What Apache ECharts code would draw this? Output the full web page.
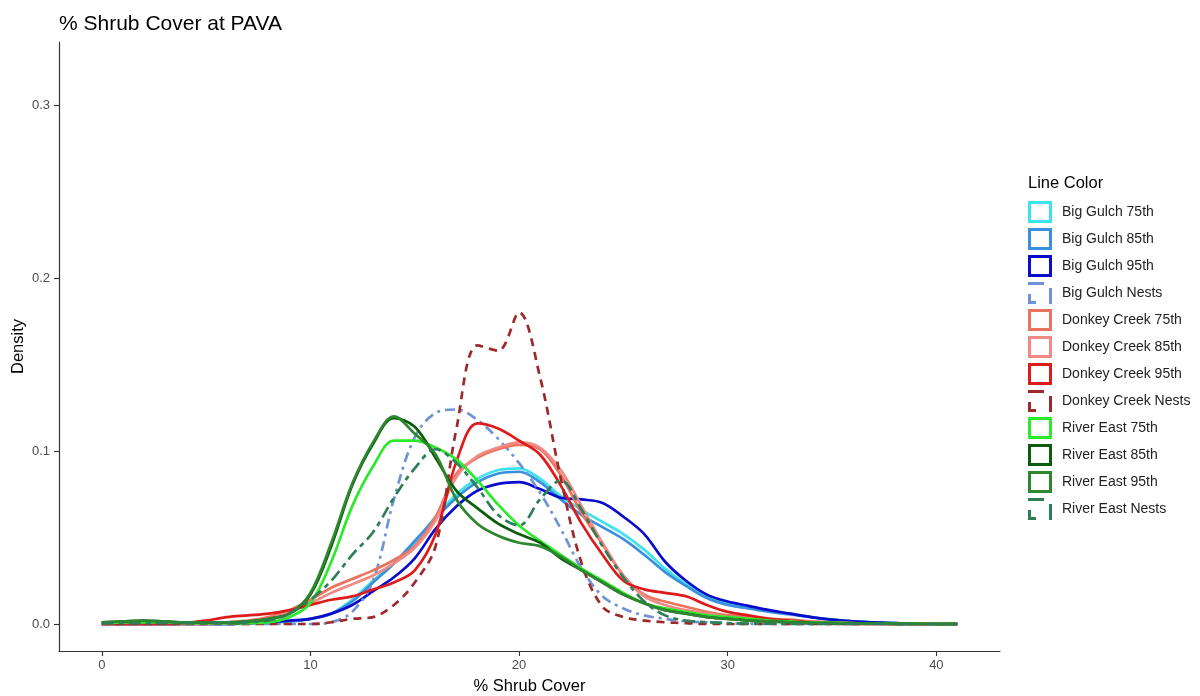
<!DOCTYPE html>
<html>
<head>
<meta charset="utf-8">
<title>% Shrub Cover at PAVA</title>
<script src="https://cdn.jsdelivr.net/npm/echarts@6/dist/echarts.min.js"></script>
<style>
  html, body { margin: 0; padding: 0; background: #ffffff; }
  #chart { width: 1200px; height: 696px; }
</style>
</head>
<body>
<div id="chart"></div>
<script>
// Density estimates of % shrub cover, sampled at whole percent values.
const shrubCover = [0,1,2,3,4,5,6,7,8,9,10,11,12,13,14,15,16,17,18,19,20,21,22,23,24,25,26,27,28,29,30,31,32,33,34,35,36,37,38,39,40,41];

const bigGulch75 = [0,0,0,0,0,0,0,0.0005,0.001,0.0015,0.003,0.006,0.014,0.025,0.035,0.047,0.062,0.075,0.084,0.089,0.090,0.084,0.074,0.066,0.059,0.052,0.043,0.032,0.023,0.016,0.012,0.0095,0.0075,0.006,0.004,0.0025,0.0015,0.001,0.0005,0.0003,0.0001,0];
const bigGulch85 = [0,0,0,0,0,0,0,0.0005,0.001,0.0015,0.003,0.006,0.013,0.024,0.035,0.048,0.061,0.073,0.082,0.087,0.088,0.082,0.072,0.063,0.056,0.049,0.040,0.030,0.022,0.015,0.011,0.009,0.007,0.0055,0.004,0.0025,0.0015,0.001,0.0005,0.0003,0.0001,0];
const bigGulch95 = [0,0,0,0,0,0,0,0.0005,0.001,0.002,0.003,0.006,0.011,0.019,0.027,0.038,0.055,0.068,0.077,0.081,0.082,0.078,0.073,0.072,0.070,0.062,0.052,0.036,0.025,0.017,0.013,0.0105,0.008,0.006,0.004,0.0025,0.0015,0.001,0.0005,0.0003,0.0001,0];
const bigGulchNests = [0,0,0,0,0,0,0,0,0,0,0,0.001,0.007,0.025,0.072,0.108,0.122,0.124,0.118,0.107,0.093,0.076,0.055,0.032,0.016,0.009,0.005,0.003,0.0015,0.001,0.0005,0,0,0,0,0,0,0,0,0,0,0];

const donkeyCreek75 = [0,0,0,0,0,0,0.001,0.002,0.004,0.008,0.014,0.021,0.026,0.031,0.037,0.045,0.062,0.087,0.096,0.101,0.1035,0.101,0.086,0.064,0.046,0.028,0.017,0.013,0.010,0.007,0.005,0.004,0.003,0.0025,0.0015,0.001,0.0005,0.0003,0.0002,0.0001,0,0];
const donkeyCreek85 = [0,0,0,0,0,0,0.0005,0.0015,0.003,0.007,0.012,0.018,0.023,0.028,0.035,0.044,0.060,0.085,0.097,0.102,0.105,0.102,0.089,0.068,0.047,0.028,0.016,0.011,0.008,0.006,0.004,0.003,0.0025,0.002,0.0012,0.0008,0.0004,0.0002,0.0001,0,0,0];
const donkeyCreek95 = [0,0,0,0,0.0005,0.002,0.004,0.005,0.006,0.008,0.011,0.014,0.016,0.020,0.024,0.031,0.052,0.094,0.116,0.113,0.106,0.098,0.080,0.058,0.040,0.025,0.020,0.018,0.016,0.011,0.007,0.005,0.003,0.002,0.001,0.0005,0,0,0,0,0,0];
const donkeyCreekNests = [0,0,0,0,0,0,0,0,0,0,0,0.001,0.003,0.004,0.011,0.024,0.045,0.113,0.161,0.158,0.180,0.143,0.084,0.035,0.010,0.004,0.002,0.001,0.0005,0,0,0,0,0,0,0,0,0,0,0,0,0];

const riverEast75 = [0.0005,0.001,0.001,0.001,0.0005,0.0005,0.0005,0.0005,0.001,0.004,0.012,0.036,0.068,0.091,0.106,0.106,0.102,0.095,0.083,0.069,0.057,0.048,0.040,0.032,0.025,0.018,0.012,0.009,0.007,0.005,0.004,0.003,0.002,0.0015,0.001,0.0008,0.0005,0.0004,0.0003,0.0002,0.0001,0];
const riverEast85 = [0.001,0.0015,0.002,0.0015,0.001,0.001,0.001,0.0015,0.003,0.006,0.017,0.045,0.080,0.104,0.119,0.114,0.096,0.077,0.067,0.058,0.052,0.047,0.038,0.031,0.024,0.017,0.012,0.008,0.006,0.004,0.003,0.002,0.0015,0.001,0.0007,0.0005,0.0003,0.0002,0.0001,0,0,0];
const riverEast95 = [0.001,0.0015,0.002,0.0015,0.001,0.001,0.001,0.0015,0.003,0.006,0.018,0.047,0.081,0.105,0.120,0.110,0.098,0.072,0.058,0.051,0.047,0.045,0.039,0.031,0.024,0.017,0.012,0.008,0.006,0.004,0.003,0.002,0.0015,0.001,0.0007,0.0005,0.0003,0.0002,0.0001,0,0,0];
const riverEastNests = [0.0005,0.0005,0.0005,0.0005,0.0005,0.0005,0.0005,0.001,0.002,0.006,0.014,0.025,0.040,0.053,0.073,0.090,0.101,0.093,0.079,0.063,0.057,0.072,0.083,0.066,0.045,0.027,0.013,0.005,0.002,0.001,0.0005,0.0003,0.0002,0.0001,0,0,0,0,0,0,0,0];

const groupNames = [
  'Big Gulch 75th', 'Big Gulch 85th', 'Big Gulch 95th', 'Big Gulch Nests',
  'Donkey Creek 75th', 'Donkey Creek 85th', 'Donkey Creek 95th', 'Donkey Creek Nests',
  'River East 75th', 'River East 85th', 'River East 95th', 'River East Nests'
];
const groupValues = [
  bigGulch75, bigGulch85, bigGulch95, bigGulchNests,
  donkeyCreek75, donkeyCreek85, donkeyCreek95, donkeyCreekNests,
  riverEast75, riverEast85, riverEast95, riverEastNests
];

const xTicks = [0, 10, 20, 30, 40];
const yTicks = [0, 0.1, 0.2, 0.3];

// Line appearance per group
const lineColors = [
  '#3ce2ec', '#3a8fdf', '#0b0bcb', '#6f93d6',
  '#ea7460', '#f08a84', '#de1b1b', '#9c2a2c',
  '#2bea2b', '#0b5c0b', '#2e872e', '#2e7f58'
];
const lineDash = [
  'solid', 'solid', 'solid', [10, 5, 3, 5],
  'solid', 'solid', 'solid', [8, 6],
  'solid', 'solid', 'solid', [12, 5, 5, 5]
];

const solidBox = 'path://M0,0H24V22H0Z M3,3V19H21V3Z';
const dashedBox = 'path://M0,0H16V3H0Z M0,12H3V19H8V22H0Z M21,6H24V22H21Z';

const fontFamily = '"Liberation Sans", Arial, sans-serif';

const series = groupNames.map((name, i) => ({
  name: name,
  type: 'line',
  data: shrubCover.map((x, k) => [x, groupValues[i][k]]),
  showSymbol: false,
  symbol: 'none',
  smooth: 0.35,
  clip: true,
  silent: true,
  lineStyle: { color: lineColors[i], width: 2.7, type: lineDash[i], cap: 'butt' },
  itemStyle: { color: lineColors[i] }
}));

const chart = echarts.init(document.getElementById('chart'), null, { renderer: 'canvas' });
chart.setOption({
  animation: false,
  backgroundColor: '#ffffff',
  textStyle: { fontFamily: fontFamily },
  title: [
    {
      text: '% Shrub Cover at PAVA',
      left: 59, top: 14, padding: 0,
      textStyle: { fontSize: 21, fontWeight: 'normal', color: '#000000', fontFamily: fontFamily }
    },
    {
      text: 'Line Color',
      left: 1028, top: 175, padding: 0,
      textStyle: { fontSize: 16.5, fontWeight: 'normal', color: '#000000', fontFamily: fontFamily }
    }
  ],
  legend: {
    orient: 'vertical',
    left: 1028,
    top: 201,
    padding: 0,
    itemWidth: 24,
    itemHeight: 22,
    itemGap: 5,
    selectedMode: false,
    itemStyle: { borderWidth: 0 },
    textStyle: { fontSize: 14, color: '#222222', fontFamily: fontFamily, padding: [0, 0, 0, 5] },
    data: groupNames.map((name, i) => ({
      name: name,
      icon: Array.isArray(lineDash[i]) ? dashedBox : solidBox,
      itemStyle: { color: lineColors[i], borderWidth: 0 }
    }))
  },
  grid: { left: 59, right: 200, top: 42, bottom: 45, containLabel: false, outerBoundsMode: 'none' },
  xAxis: {
    type: 'value',
    min: -2.05,
    max: 43.05,
    name: '% Shrub Cover',
    nameLocation: 'middle',
    nameGap: 27,
    nameMoveOverlap: false,
    nameTextStyle: { fontSize: 16.5, color: '#000000', fontFamily: fontFamily },
    axisLine: { onZero: false, lineStyle: { color: '#333333', width: 1.2 } },
    axisTick: { show: true, length: 5, customValues: xTicks, lineStyle: { color: '#333333', width: 1.1 } },
    axisLabel: { customValues: xTicks, color: '#4d4d4d', fontSize: 13, margin: 8, fontFamily: fontFamily },
    splitLine: { show: false }
  },
  yAxis: {
    type: 'value',
    min: -0.0156,
    max: 0.3364,
    name: 'Density',
    nameLocation: 'middle',
    nameGap: 32,
    nameMoveOverlap: false,
    nameTextStyle: { fontSize: 16.5, color: '#000000', fontFamily: fontFamily },
    axisLine: { show: true, onZero: false, lineStyle: { color: '#333333', width: 1.2 } },
    axisTick: { show: true, length: 5, customValues: yTicks, lineStyle: { color: '#333333', width: 1.1 } },
    axisLabel: {
      customValues: yTicks, color: '#4d4d4d', fontSize: 13, margin: 9, fontFamily: fontFamily,
      formatter: v => v.toFixed(1)
    },
    splitLine: { show: false }
  },
  series: series
});
</script>
</body>
</html>
